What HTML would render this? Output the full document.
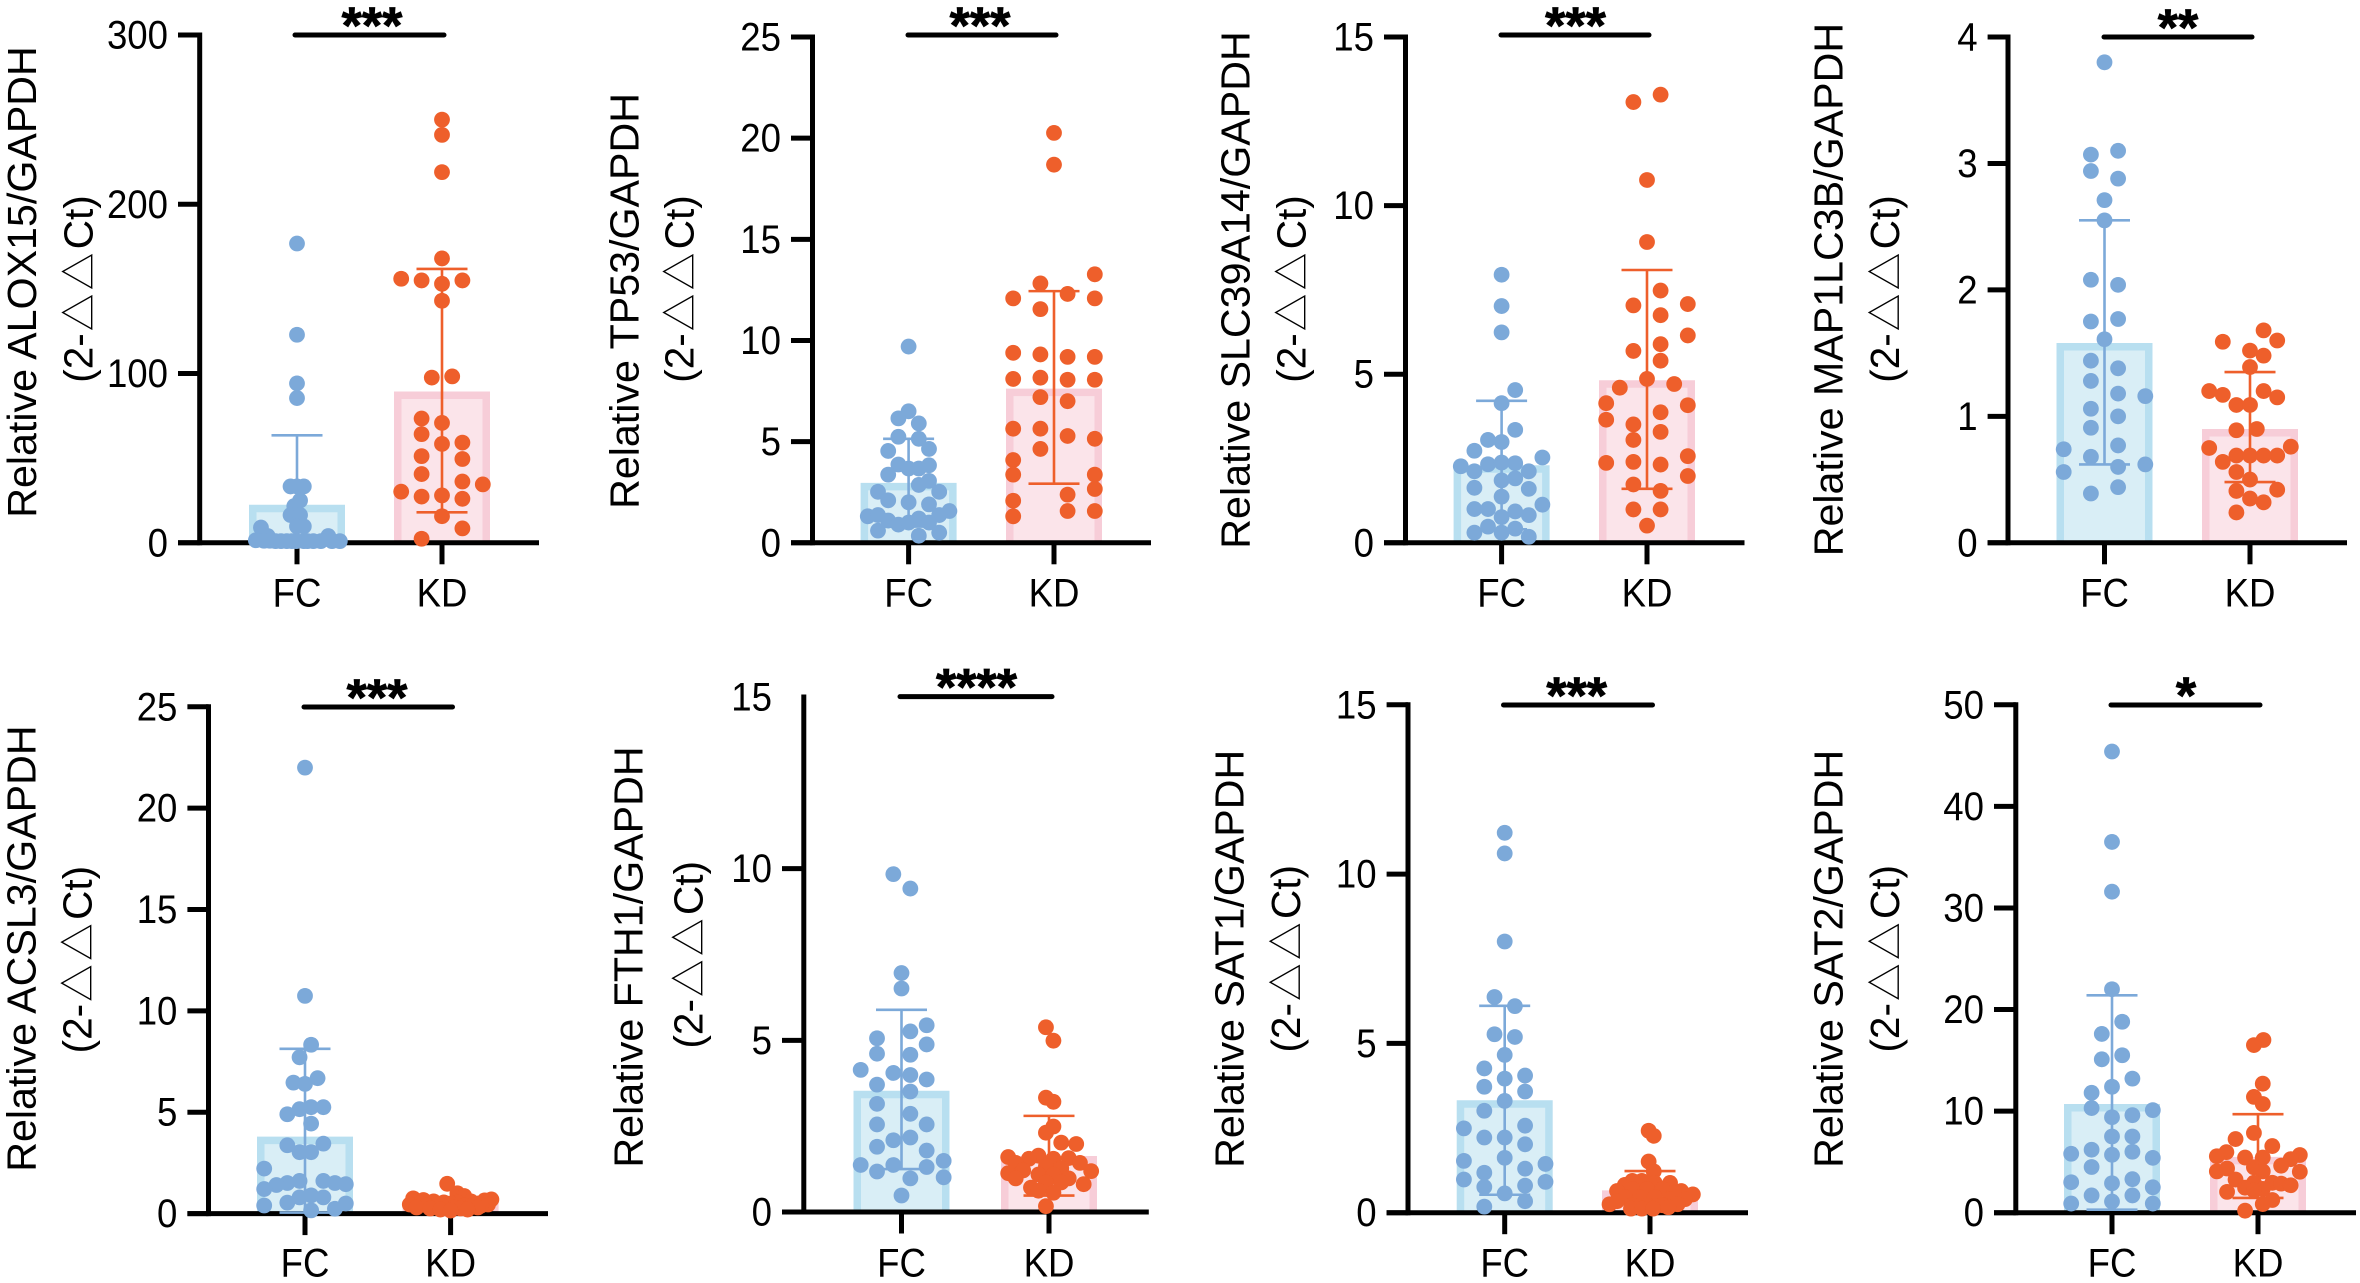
<!DOCTYPE html>
<html lang="en">
<head>
<meta charset="utf-8">
<title>Relative gene expression, FC vs KD</title>
<style>
html,body{margin:0;padding:0;background:#fff;width:2360px;height:1283px;overflow:hidden}
svg{display:block}
text{font-family:"Liberation Sans","Noto Sans CJK SC",sans-serif;fill:#000}
</style>
</head>
<body>
<svg id="figure" xmlns="http://www.w3.org/2000/svg" width="2360" height="1283" viewBox="0 0 2360 1283"></svg>
<script>
const categories = ['FC', 'KD'];

const alox15Ticks = [0, 100, 200, 300];
const alox15Means = [22.5, 89.4];
const alox15ErrLow = [0, 18];
const alox15ErrHigh = [63.5, 161.8];
const alox15FcValues = [176.8,122.9,94.2,85.5,33.3,33.3,33.3,25,21.7,16.4,16.4,9.7,9.7,9,4,4,1.5,1.2,1,1,1,1,1,1,1,1,1.2,1,1,1];
const alox15FcSlots = [0,0,0,0,-1.9,0,2,0.9,-0.8,-1.9,0.9,0,2,-10.6,9.2,-8.6,-12.1,-9.7,-6.3,-3,-0.2,2,4.8,7,10.3,12.6,-8,-4.7,3.1,-1.5];
const alox15KdValues = [250,241,219,168,156,155,153,155,143,97.6,98.3,73.4,70.8,64.2,58.4,59.2,51.2,49.5,40.6,36.2,34.5,30.2,27.3,28,26,15.7,8.5,2.4];
const alox15KdSlots = [0,0,0,0,-12,-6,0,6,0,-3,3,-6,0,-6,0,6,-6,6,-6,6,12,-12,-6,0,6,0,6,-6];

const tp53Ticks = [0, 5, 10, 15, 20, 25];
const tp53Means = [2.96, 7.62];
const tp53ErrLow = [0.8, 2.92];
const tp53ErrHigh = [5.14, 12.44];
const tp53FcValues = [9.7,6.5,6.15,5.9,5.24,5.14,4.54,4.64,3.87,3.67,3.67,3.83,3.37,3.06,2.86,2.52,2.52,2.1,2,1.9,1.31,1.37,1.57,1.37,1.1,0.9,1,1.2,1,0.6,0.5,0.35];
const tp53FcSlots = [0,0,-3,3,-3,3,-6,6,-3,0,3,6,-6,6,3,-9,9,-6,0,6,-12,-9,12,9,-6,-3,0,3,6,-9,9,3];
const tp53KdValues = [20.26,18.69,12.82,13.27,12.08,12.3,12.08,11.55,9.39,9.31,9.19,9.19,8.1,8.16,8.06,8.06,7.2,7,5.64,5.64,5.28,5.14,4.64,4.09,3.37,3.37,2.66,2.38,2.08,1.57,1.57,1.31];
const tp53KdSlots = [0,0,-4,12,-12,4,12,-4,-12,-4,4,12,-12,-4,4,12,-4,4,-12,-4,4,12,-4,-12,-12,12,12,4,-12,4,12,-12];

const slc39a14Ticks = [0, 5, 10, 15];
const slc39a14Means = [2.3, 4.82];
const slc39a14ErrLow = [0.4, 1.6];
const slc39a14ErrHigh = [4.21, 8.09];
const slc39a14FcValues = [7.95,7.02,6.24,4.53,4.14,3.35,3.05,2.99,2.73,2.53,2.27,2.33,2.38,2.36,2.12,2.12,1.85,1.91,1.63,1.6,1.37,1.13,1,1,0.93,0.76,0.82,0.48,0.42,0.3,0.3,0.18];
const slc39a14FcSlots = [0,0,0,4,0,4,-4,0,-8,12,-12,-4,0,4,-8,8,0,4,-8,8,0,12,-8,-4,4,0,8,-4,4,-8,0,8];
const slc39a14KdValues = [13.29,13.07,10.76,8.92,7.48,7.04,7.08,6.75,6.15,5.89,5.69,5.4,4.86,4.6,4.71,4.14,4.08,3.87,3.65,3.51,3.29,3.05,2.57,2.37,2.4,2.32,1.98,1.73,1.54,0.99,0.99,0.51];
const slc39a14KdSlots = [4,-4,0,0,4,-4,12,4,12,4,-4,4,0,-8,8,-12,12,4,-12,-4,4,-4,12,-12,-4,4,12,-4,4,-4,4,0];

const map1lc3bTicks = [0, 1, 2, 3, 4];
const map1lc3bMeans = [1.58, 0.9];
const map1lc3bErrLow = [0.62, 0.48];
const map1lc3bErrHigh = [2.55, 1.35];
const map1lc3bFcValues = [3.8,3.1,3.07,2.94,2.88,2.71,2.55,2.08,2.04,1.77,1.75,1.61,1.44,1.38,1.28,1.18,1.16,1.06,1,0.91,0.77,0.74,0.68,0.6,0.62,0.56,0.44,0.39];
const map1lc3bFcSlots = [0,4,-4,-4,4,0,0,-4,4,4,-4,0,-4,4,-4,4,12,-4,4,-4,4,-12,-4,4,12,-12,4,-4];
const map1lc3bKdValues = [1.68,1.59,1.6,1.52,1.48,1.39,1.2,1.17,1.2,1.15,1.09,1.09,0.89,0.9,0.75,0.76,0.69,0.69,0.69,0.69,0.64,0.56,0.5,0.41,0.42,0.35,0.32,0.24];
const map1lc3bKdSlots = [4,-8,8,0,4,0,-12,-8,4,8,-4,0,-4,2,-12,12,-4,0,4,8,-8,-4,0,-4,8,0,4,-4];

const acsl3Ticks = [0, 5, 10, 15, 20, 25];
const acsl3Means = [3.8, 0.6];
const acsl3ErrLow = [0.05, 0.3];
const acsl3ErrHigh = [8.13, 0.8];
const acsl3FcValues = [22,10.74,8.33,7.71,6.68,6.46,6.4,5.15,5.25,5.25,4.9,4.44,3.37,3.45,3.03,3.03,2.22,1.61,1.51,1.41,1.21,1.61,1.51,1.45,0.8,0.9,0.8,0.54,0.5,0.4,0.24,0.16];
const acsl3FcSlots = [0,0,1.8,-1.6,3.7,-3.4,0,-1.6,1.8,5.4,-5.2,1.8,-5.2,5.4,-1.6,1.8,-12,-1.6,-5.2,-8.4,-12,5.4,8.8,12,-1.6,1.8,5.4,-5.2,12,-12,8.8,1.8];
const acsl3KdValues = [1.47,1,0.87,0.75,0.7,0.67,0.65,0.6,0.6,0.55,0.55,0.5,0.5,0.5,0.45,0.45,0.45,0.4,0.4,0.4,0.35,0.35,0.3,0.3,0.3,0.25,0.25,0.2,0.2,0.15];
const acsl3KdSlots = [-1,2,4,-11,12,-8,10,-5,6,-2,2,-9,8,0,-12,-4,11,-7,4,9,-2,6,-10,1,8,-6,3,-3,5,0];

const fth1Ticks = [0, 5, 10, 15];
const fth1Means = [3.53, 1.63];
const fth1ErrLow = [1.25, 0.48];
const fth1ErrHigh = [5.89, 2.8];
const fth1FcValues = [9.84,9.42,6.96,6.51,5.44,5.26,5.06,4.88,4.61,4.58,4.14,4.05,3.99,3.86,3.71,3.51,3.15,2.86,2.55,2.55,2.17,2.09,1.9,1.79,1.49,1.37,1.37,1.31,1.18,1.01,0.98,0.48];
const fth1FcSlots = [-2.4,2.6,0,0,7.4,2.6,-7.2,7.4,-7.2,2.6,-12,-2.4,2.6,7.4,-7.2,2.6,-7.2,2.6,-7.2,7.4,2.6,-2.4,-7.2,7.4,12.4,-12,-2.4,7.4,-7.2,12.4,2.6,0];
const fth1KdValues = [5.38,4.99,3.33,3.21,2.49,2.31,2.02,1.98,1.6,1.64,1.55,1.57,1.43,1.43,1.55,1.19,1.13,1.21,1.33,1.27,0.98,1.09,1.09,0.98,0.81,0.71,0.86,0.86,0.62,0.56,0.17];
const fth1KdSlots = [-0.9,1.3,-0.9,1.3,1.3,-0.9,3.6,8,-12,-3.1,-5.9,5.8,-9.8,9.1,1.3,12.4,-12,-7.6,-0.9,3.6,-9.8,-3.1,1.3,5.8,10.2,-5.3,-0.9,3.6,-3.1,1.3,-0.9];

const sat1Ticks = [0, 5, 10, 15];
const sat1Means = [3.32, 0.66];
const sat1ErrLow = [0.53, 0.15];
const sat1ErrHigh = [6.11, 1.23];
const sat1FcValues = [11.22,10.61,8.01,6.37,6.1,5.27,5.19,4.66,4.26,4.05,3.96,3.72,3.58,3.3,3.01,2.49,2.57,2.22,2.22,2.02,1.62,1.53,1.44,1.3,1.18,0.98,0.91,0.76,0.8,0.57,0.34,0.18];
const sat1FcSlots = [0,0,0,-3,3,-3,3,0,-6,6,0,-6,6,0,-6,-12,6,-6,0,6,0,-12,12,6,-6,-12,12,-6,6,0,6,-6];
const sat1KdValues = [2.42,2.27,1.51,1.22,0.88,0.94,0.94,0.82,0.88,0.64,0.64,0.54,0.25,0.7,0.7,0.7,0.58,0.4,0.46,0.46,0.46,0.4,0.22,0.22,0.22,0.34,0.25,0.12,0.12,0.12,0.16];
const sat1KdSlots = [-0.4,1.1,-0.4,1.1,5.9,-5.2,-2.4,-7.4,1.4,9.2,-9.7,12.6,-11.9,-5.2,-0.8,3.7,7,10.3,-7.4,-3,1.4,5.9,-5.2,-0.8,3.7,-9.7,8.1,-5.6,-2.4,0.9,5.4];

const sat2Ticks = [0, 10, 20, 30, 40, 50];
const sat2Means = [10.7, 5.5];
const sat2ErrLow = [0.3, 1.45];
const sat2ErrHigh = [21.4, 9.7];
const sat2FcValues = [45.4,36.5,31.6,22,18.8,17.6,15.5,15.1,13.2,12.4,11.8,10.3,10.1,9.4,9.6,7.5,7.5,6.2,6,5.8,5.7,5.4,4.5,3.3,3,2.9,2.5,1.7,1.7,1.1,0.9,0.9];
const sat2FcSlots = [0,0,0,0,3,-3,3,-3,6,0,-6,-6,12,0,6,0,6,-6,6,-12,0,12,-6,6,-12,0,12,-6,6,0,-12,12];
const sat2KdValues = [17,16.5,12.7,11.4,10.7,7.85,7.25,6.56,5.96,5.56,5.43,5.43,5.68,5.27,4.63,4.47,4.07,4.35,4.03,4.07,3.26,2.94,2.94,2.86,2.7,2.46,2.34,2.05,2.2,1.25,0.85,0.2];
const sat2KdSlots = [1.6,-1.2,1.4,-1.2,1.4,-1.2,-6.6,4.2,-9.3,-12.1,-3.8,1.4,12.3,9.6,6.8,-1.2,-12.1,-9.1,12.3,1.4,-6.6,-1.2,4.2,6.8,9.6,-3.8,1.4,-9.1,-1.2,4.2,1.4,-3.8];

const SVG_NS = 'http://www.w3.org/2000/svg';
const SLOT_PX = 3.4;
const DOT_R = 7.9;
const BAR_HALF = 48;
const BAR_BORDER = 7.5;
const AXIS_W = 5;
const TICK_LEN = 21.5;
const CAP_HALF = 25.5;
const LABEL_SIZE = 36.6;
const LABEL_STRETCH = 1.08;
const TITLE_SIZE = 41.2;
const seriesFill = ['#7ca9d9', '#ee5f2b'];
const barFill = ['#d9eef6', '#fbe4ea'];
const barEdge = ['#b8dff0', '#f7cdd8'];

const panels = [
  {key:'alox15', title:'Relative ALOX15/GAPDH', sig:'***', ticks:alox15Ticks, means:alox15Means, low:alox15ErrLow, high:alox15ErrHigh,
   values:[alox15FcValues, alox15KdValues], slots:[alox15FcSlots, alox15KdSlots],
   box:{axisX:199.7, top:35, zero:542.8, tickL:178, right:539, cats:[297,442], sigL:295, sigR:444, sigY:35, starX:372, labelY:595,
        t1X:36.2, t1Y:282, t2X:92.4, t2Y:289}},
  {key:'tp53', title:'Relative TP53/GAPDH', sig:'***', ticks:tp53Ticks, means:tp53Means, low:tp53ErrLow, high:tp53ErrHigh,
   values:[tp53FcValues, tp53KdValues], slots:[tp53FcSlots, tp53KdSlots],
   box:{axisX:812.5, top:37, zero:542.8, tickL:791, right:1151, cats:[908.6,1054], sigL:908, sigR:1056, sigY:35, starX:980, labelY:595,
        t1X:638.5, t1Y:301, t2X:693.7, t2Y:289}},
  {key:'slc39a14', title:'Relative SLC39A14/GAPDH', sig:'***', ticks:slc39a14Ticks, means:slc39a14Means, low:slc39a14ErrLow, high:slc39a14ErrHigh,
   values:[slc39a14FcValues, slc39a14KdValues], slots:[slc39a14FcSlots, slc39a14KdSlots],
   box:{axisX:1405.5, top:37, zero:542.8, tickL:1384, right:1744.5, cats:[1501.6,1647], sigL:1501, sigR:1649, sigY:35, starX:1575.5, labelY:595,
        t1X:1249.5, t1Y:290, t2X:1305.6, t2Y:289}},
  {key:'map1lc3b', title:'Relative MAP1LC3B/GAPDH', sig:'**', ticks:map1lc3bTicks, means:map1lc3bMeans, low:map1lc3bErrLow, high:map1lc3bErrHigh,
   values:[map1lc3bFcValues, map1lc3bKdValues], slots:[map1lc3bFcSlots, map1lc3bKdSlots],
   box:{axisX:2008, top:37, zero:542.8, tickL:1987.6, right:2347, cats:[2104.5,2250], sigL:2104, sigR:2252, sigY:37, starX:2178, labelY:595,
        t1X:1842.5, t1Y:289.6, t2X:1899, t2Y:289}},
  {key:'acsl3', title:'Relative ACSL3/GAPDH', sig:'***', ticks:acsl3Ticks, means:acsl3Means, low:acsl3ErrLow, high:acsl3ErrHigh,
   values:[acsl3FcValues, acsl3KdValues], slots:[acsl3FcSlots, acsl3KdSlots],
   box:{axisX:208.5, top:706.8, zero:1213.6, tickL:187.4, right:548, cats:[305,450.6], sigL:304, sigR:452.5, sigY:707, starX:377, labelY:1264.7,
        t1X:35.5, t1Y:948.6, t2X:91.6, t2Y:959.6}},
  {key:'fth1', title:'Relative FTH1/GAPDH', sig:'****', noTopTick:true, ticks:fth1Ticks, means:fth1Means, low:fth1ErrLow, high:fth1ErrHigh,
   values:[fth1FcValues, fth1KdValues], slots:[fth1FcSlots, fth1KdSlots],
   box:{axisX:803.8, top:697, zero:1212, tickL:782, right:1148.8, cats:[901.5,1049], sigL:900, sigR:1052, sigY:696.6, starX:976.5, labelY:1264.7,
        t1X:642.5, t1Y:957, t2X:702.4, t2Y:954.8}},
  {key:'sat1', title:'Relative SAT1/GAPDH', sig:'***', ticks:sat1Ticks, means:sat1Means, low:sat1ErrLow, high:sat1ErrHigh,
   values:[sat1FcValues, sat1KdValues], slots:[sat1FcSlots, sat1KdSlots],
   box:{axisX:1408, top:704.8, zero:1212.7, tickL:1386.6, right:1748, cats:[1504.7,1650], sigL:1503.5, sigR:1652.5, sigY:705, starX:1576.7, labelY:1264.7,
        t1X:1243.5, t1Y:958.8, t2X:1300, t2Y:958.8}},
  {key:'sat2', title:'Relative SAT2/GAPDH', sig:'*', ticks:sat2Ticks, means:sat2Means, low:sat2ErrLow, high:sat2ErrHigh,
   values:[sat2FcValues, sat2KdValues], slots:[sat2FcSlots, sat2KdSlots],
   box:{axisX:2015.8, top:704.8, zero:1212.7, tickL:1994, right:2356, cats:[2112,2258], sigL:2111, sigR:2260, sigY:705, starX:2186, labelY:1264.7,
        t1X:1842.5, t1Y:958.8, t2X:1899, t2Y:958.8}}
];

function make(parent, tag, attrs, content) {
  const node = document.createElementNS(SVG_NS, tag);
  for (const k in attrs) node.setAttribute(k, attrs[k]);
  if (content !== undefined) node.textContent = content;
  parent.appendChild(node);
  return node;
}

function drawPanel(p) {
  const b = p.box;
  const maxVal = p.ticks[p.ticks.length - 1];
  const yScale = v => b.zero - (v / maxVal) * (b.zero - b.top);
  const xScale = (cat, slot) => b.cats[cat] + (slot || 0) * SLOT_PX;

  const g = make(document.getElementById('figure'), 'g', {});
  
  

  categories.forEach((name, i) => {
    const x = xScale(i);
    const y = yScale(p.means[i]) + BAR_BORDER / 2;
    const l = x - BAR_HALF + BAR_BORDER / 2;
    const r = x + BAR_HALF - BAR_BORDER / 2;
    const bar = make(g, 'path', {d:`M${l} ${b.zero}V${y}H${r}V${b.zero}`, fill:barFill[i], stroke:barEdge[i], 'stroke-width':BAR_BORDER});
    
    
  });

  const yAxis = make(g, 'line', {x1:b.axisX, x2:b.axisX, y1:b.top - AXIS_W / 2, y2:b.zero + AXIS_W / 2, stroke:'#000', 'stroke-width':AXIS_W});
  
  
  const xAxis = make(g, 'line', {x1:b.tickL, x2:b.right, y1:b.zero, y2:b.zero, stroke:'#000', 'stroke-width':AXIS_W});
  
  

  p.ticks.forEach((t, i) => {
    const y = yScale(t);
    if (!(p.noTopTick && i === p.ticks.length - 1)) {
      const tick = make(g, 'line', {x1:b.tickL, x2:b.axisX, y1:y, y2:y, stroke:'#000', 'stroke-width':AXIS_W});
      
      
    }
    const label = make(g, 'text', {transform:`translate(${b.tickL - 10} ${y + 13.5}) scale(1 ${LABEL_STRETCH})`, 'text-anchor':'end', 'font-size':LABEL_SIZE}, String(t));
    
    
  });

  categories.forEach((name, i) => {
    const x = xScale(i);
    const tick = make(g, 'line', {x1:x, x2:x, y1:b.zero, y2:b.zero + TICK_LEN, stroke:'#000', 'stroke-width':AXIS_W});
    
    
    const label = make(g, 'text', {transform:`translate(${x} ${b.labelY + 11.7}) scale(1 ${LABEL_STRETCH})`, 'text-anchor':'middle', 'font-size':LABEL_SIZE}, name);
    
    
  });

  categories.forEach((name, i) => {
    const x = xScale(i);
    const hi = yScale(p.high[i]);
    const lo = yScale(p.low[i]);
    const err = make(g, 'path', {d:`M${x} ${hi}V${lo}M${x - CAP_HALF} ${hi}H${x + CAP_HALF}M${x - CAP_HALF} ${lo}H${x + CAP_HALF}`, fill:'none', stroke:seriesFill[i], 'stroke-width':2.6});
    
    
  });

  categories.forEach((name, i) => {
    p.values[i].forEach((v, j) => {
      const dot = make(g, 'circle', {cx:xScale(i, p.slots[i][j]), cy:yScale(v), r:DOT_R, fill:seriesFill[i]});
      
      
    });
  });

  const sigLine = make(g, 'line', {x1:b.sigL, x2:b.sigR, y1:b.sigY, y2:b.sigY, stroke:'#000', 'stroke-width':AXIS_W, 'stroke-linecap':'round'});
  
  
  const stars = make(g, 'text', {x:b.starX, y:b.sigY + 8.5, 'text-anchor':'middle', 'font-size':52, 'font-weight':'bold', stroke:'#000', 'stroke-width':0.8}, p.sig);
  
  

  const title = make(g, 'text', {transform:`translate(${b.t1X} ${b.t1Y}) rotate(-90)`, 'text-anchor':'middle', 'font-size':TITLE_SIZE}, p.title);
  
  
  const sub = make(g, 'text', {transform:`translate(${b.t2X} ${b.t2Y}) rotate(-90)`, 'text-anchor':'middle', 'font-size':40.5});
  
  
  make(sub, 'tspan', {}, '(2-');
  make(sub, 'tspan', {'font-size':37.5, 'letter-spacing':3.5, dx:2}, '△△');
  make(sub, 'tspan', {}, 'Ct)');
}

panels.forEach(drawPanel);
</script>
</body>
</html>
